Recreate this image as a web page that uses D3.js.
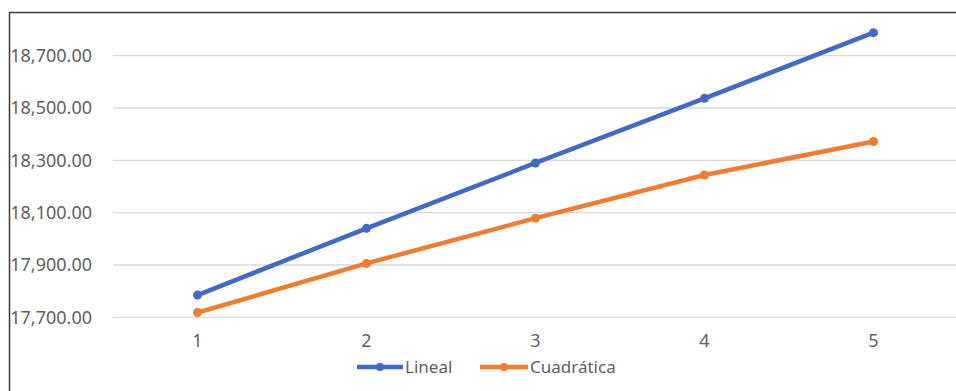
<!DOCTYPE html>
<html>
<head>
<meta charset="utf-8">
<script src="https://cdn.jsdelivr.net/npm/d3@7"></script>
<style>
  html, body { margin: 0; padding: 0; background: #fff; }
  svg { display: block; }
</style>
</head>
<body>
<svg id="chart" width="956" height="391"></svg>
<script>
// Periods on the x axis
const periods = [1, 2, 3, 4, 5];
// Forecast series
const lineal = [17785, 18040, 18290, 18537, 18788];
const cuadratica = [17718, 17906, 18079, 18244, 18372];
// Value-axis ticks
const yTicks = [17700, 17900, 18100, 18300, 18500, 18700];

const series = [
  { name: "Lineal", values: lineal, color: "#4169C6" },
  { name: "Cuadrática", values: cuadratica, color: "#ED7D31" }
];

const svg = d3.select("#chart");
const font = "'Noto Sans', sans-serif";
const textColor = "#5f5f5f";

// Chart frame
svg.append("path")
  .attr("d", "M9.5,391 V12.5 H956")
  .attr("fill", "none")
  .attr("stroke", "#3a3a3a")
  .attr("stroke-width", 1.5);

const x = d3.scaleBand().domain(periods).range([113, 958]);
const y = d3.scaleLinear().domain([17700, 18700]).range([317.3, 55.7]);
const cx = d => x(d) + x.bandwidth() / 2;

// Horizontal gridlines
svg.append("g")
  .selectAll("line")
  .data(yTicks)
  .join("line")
  .attr("x1", 113).attr("x2", 958)
  .attr("y1", d => y(d)).attr("y2", d => y(d))
  .attr("stroke", "#d9d9d9")
  .attr("stroke-width", 1.3);

// Value axis labels
const fmt = d3.format(",.2f");
const yAxis = d3.axisLeft(y).tickValues(yTicks).tickFormat(fmt).tickSize(0).tickPadding(0);
const gy = svg.append("g").attr("transform", "translate(92,0)").call(yAxis);
gy.select(".domain").remove();
gy.selectAll("text")
  .attr("font-family", font)
  .attr("font-size", 18)
  .attr("fill", textColor);

// Category axis labels
const xAxis = d3.axisBottom(x).tickSize(0).tickPadding(0);
const gx = svg.append("g").attr("transform", "translate(0,334)").call(xAxis);
gx.select(".domain").remove();
gx.selectAll("text")
  .attr("font-family", font)
  .attr("font-size", 18)
  .attr("fill", textColor);

// Lines and markers
const line = d3.line().x((d, i) => cx(periods[i])).y(d => y(d));
series.forEach(s => {
  svg.append("path")
    .datum(s.values)
    .attr("d", line)
    .attr("fill", "none")
    .attr("stroke", s.color)
    .attr("stroke-width", 4.5)
    .attr("stroke-linejoin", "round")
    .attr("stroke-linecap", "round");
  svg.append("g")
    .selectAll("circle")
    .data(s.values)
    .join("circle")
    .attr("cx", (d, i) => cx(periods[i]))
    .attr("cy", d => y(d))
    .attr("r", 4.5)
    .attr("fill", s.color);
});

// Legend
const legendY = 367;
const legendItems = [
  { s: series[0], x0: 357, x1: 403, tx: 405 },
  { s: series[1], x0: 480, x1: 528, tx: 530 }
];
const lg = svg.append("g");
legendItems.forEach(it => {
  lg.append("line")
    .attr("x1", it.x0).attr("x2", it.x1)
    .attr("y1", legendY).attr("y2", legendY)
    .attr("stroke", it.s.color)
    .attr("stroke-width", 4.5);
  lg.append("circle")
    .attr("cx", (it.x0 + it.x1) / 2)
    .attr("cy", legendY)
    .attr("r", 4)
    .attr("fill", it.s.color);
  lg.append("text")
    .attr("x", it.tx)
    .attr("y", legendY)
    .attr("dy", "0.35em")
    .attr("font-family", font)
    .attr("font-size", 17)
    .attr("fill", textColor)
    .text(it.s.name);
});
</script>
</body>
</html>
